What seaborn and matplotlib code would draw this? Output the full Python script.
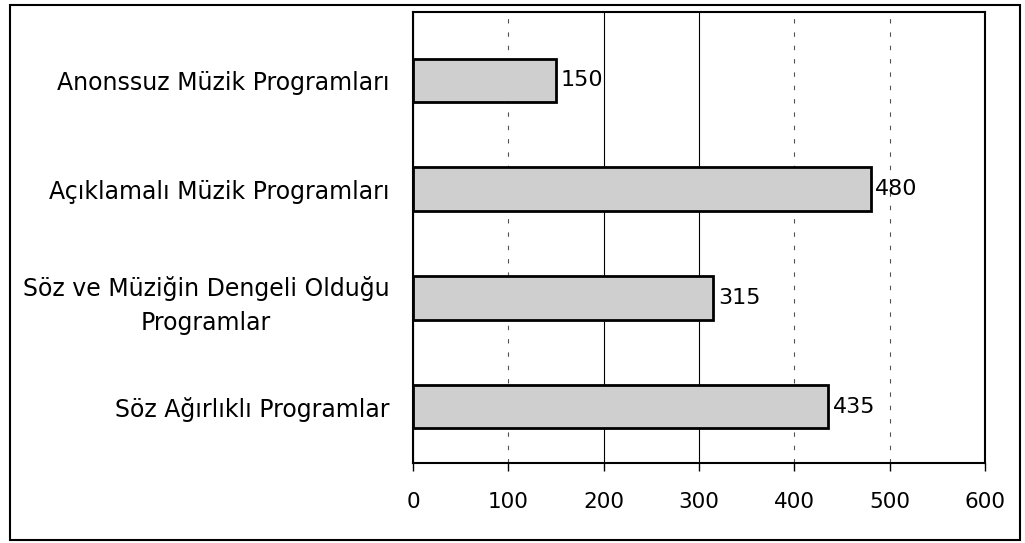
import matplotlib
matplotlib.use("Agg")
import matplotlib.pyplot as plt
import seaborn as sns
import pandas as pd
from matplotlib.patches import Rectangle

# Veriler
programlar = ["Anonssuz Müzik Programları",
              "Açıklamalı Müzik Programları",
              "Söz ve Müziğin Dengeli Olduğu\nProgramlar",
              "Söz Ağırlıklı Programlar"]
degerler = [150, 480, 315, 435]
x_ticks = [0, 100, 200, 300, 400, 500, 600]

df = pd.DataFrame({"program": programlar, "deger": degerler})

sns.set_theme(style="white")
plt.rcParams['font.family'] = ['DejaVu Sans']

fig = plt.figure(figsize=(10.25, 5.43), dpi=100)
ax = fig.add_axes([0.403, 0.147, 0.558, 0.831])

sns.barplot(data=df, x="deger", y="program", ax=ax, color="#cfcfcf",
            edgecolor="black", linewidth=2, width=0.4, saturation=1)

# Değer etiketleri
for bar, v in zip(ax.patches, degerler):
    ax.text(bar.get_width() + 5, bar.get_y() + bar.get_height() / 2, f"{v}",
            va="center", ha="left", fontsize=16, color="black")

ax.set_xlim(0, 600)
ax.set_ylim(3.52, -0.63)
ax.set_xticks(x_ticks)
ax.set_xlabel("")
ax.set_ylabel("")
ax.tick_params(axis="x", labelsize=15.5, colors="black", bottom=True, length=6,
               width=1, direction="out", pad=15)
ax.tick_params(axis="y", labelsize=17, colors="black", left=False, pad=11)
for lbl in ax.get_yticklabels():
    lbl.set_multialignment("center")
    lbl.set_linespacing(1.55)

# Izgara çizgileri
ax.grid(axis="x", color="black", linewidth=0.8)
ax.set_axisbelow(True)
for tick, line in zip(x_ticks, ax.xaxis.get_gridlines()):
    if tick in (100, 400, 500):
        line.set_linestyle((0, (4, 8)))
        line.set_linewidth(0.8)
        line.set_color("#555555")

for s in ax.spines.values():
    s.set_color("black")
    s.set_linewidth(1.5)

# Dış çerçeve
fig.patches.append(Rectangle((0.01, 0.006), 0.985, 0.985, transform=fig.transFigure,
                             fill=False, edgecolor="black", linewidth=1.5))

fig.savefig("out.png", dpi=100, facecolor="white")
